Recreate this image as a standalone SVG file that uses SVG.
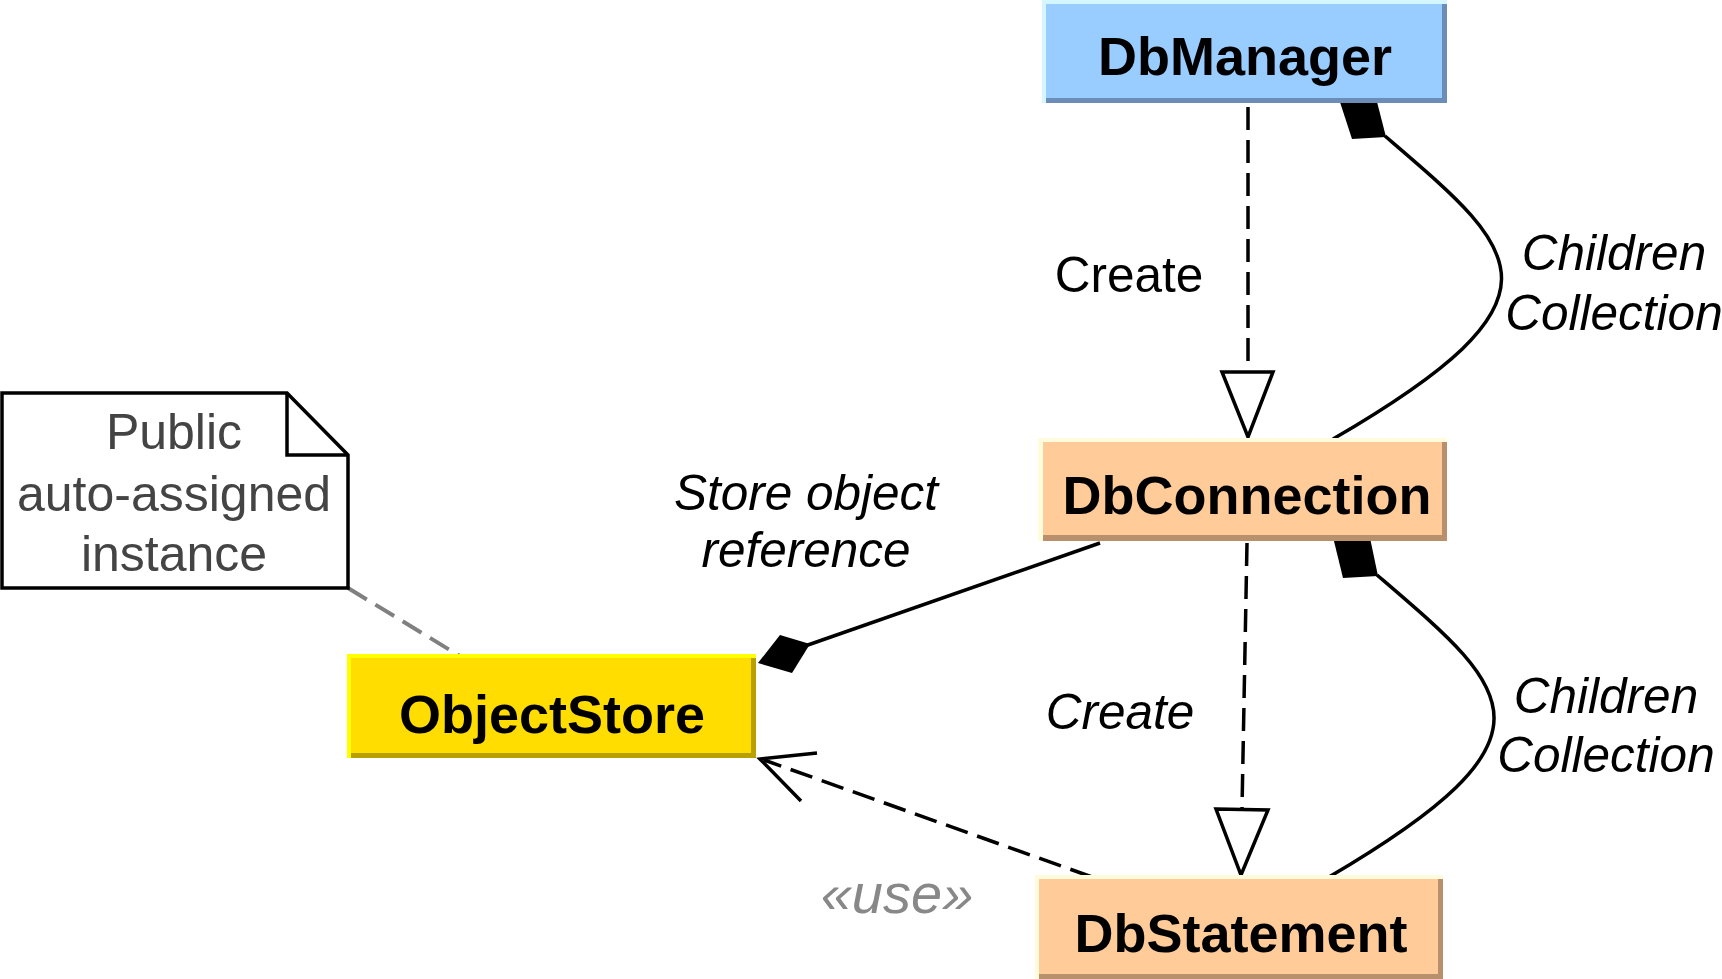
<svg xmlns="http://www.w3.org/2000/svg" width="1722" height="979" viewBox="0 0 1722 979">
<style>
.cls{font-family:"Liberation Sans",Arial,sans-serif;font-weight:bold;font-size:54px;fill:#000;text-anchor:middle}
.lbl{font-family:"Liberation Sans",Arial,sans-serif;font-size:49.5px;fill:#000;text-anchor:middle}
.it{font-style:italic}
.ln{fill:none;stroke:#000;stroke-width:3.5}
.dash{stroke-dasharray:23 10}
.tri{fill:#fff;stroke:#000;stroke-width:3.5;stroke-linejoin:miter}
.dia{fill:#000;stroke:none}
</style>
<rect width="1722" height="979" fill="#fff"/>
<g id="connectors">
  <!-- DbManager -> DbConnection create -->
  <line class="ln dash" x1="1248" y1="107" x2="1248" y2="372"/>
  <polygon class="tri" points="1222,372 1273,372 1248,437"/>
  <!-- DbManager children collection -->
  <path class="ln" d="M1385,136 C1519,251 1579,296 1333,439"/>
  <polygon class="dia" points="1338,96 1375,94 1386,137 1352,139"/>
  <!-- DbConnection -> DbStatement create -->
  <line class="ln dash" x1="1247" y1="543" x2="1242" y2="809"/>
  <polygon class="tri" points="1216,809 1268,810 1241,875"/>
  <!-- DbConnection children collection -->
  <path class="ln" d="M1377,575 C1511,690 1571,735 1329,877"/>
  <polygon class="dia" points="1332,533 1369,533 1378,576 1343,578"/>
  <!-- DbConnection -> ObjectStore store reference -->
  <line class="ln" x1="1100" y1="543" x2="805" y2="646"/>
  <polygon class="dia" points="758,663 780,635 810,644 792,673"/>
  <!-- DbStatement -> ObjectStore use -->
  <line class="ln dash" x1="1092" y1="877" x2="764" y2="760"/>
  <polyline class="ln" points="817,753 760,759 801,801"/>
  <!-- note anchor -->
  <line x1="348" y1="588" x2="463" y2="658" stroke="#808080" stroke-width="4" stroke-dasharray="22 10"/>
</g>
<g id="labels">
  <text class="lbl" x="1129" y="292">Create</text>
  <text class="lbl it" x="1614" y="270">Children</text>
  <text class="lbl it" x="1614" y="330">Collection</text>
  <text class="lbl it" x="806" y="510">Store object</text>
  <text class="lbl it" x="806" y="567">reference</text>
  <text class="lbl it" x="1120" y="729">Create</text>
  <text class="lbl it" x="1606" y="713">Children</text>
  <text class="lbl it" x="1606" y="772">Collection</text>
  <text class="lbl it" x="897" y="913" style="fill:#888;font-size:56px">«use»</text>
</g>
<g id="DbManager">
  <rect x="1042" y="0" width="405" height="103" fill="#d4f6ff"/>
  <rect x="1046" y="4" width="401" height="99" fill="#6b8db8"/>
  <rect x="1046" y="4" width="396" height="94" fill="#99ccff"/>
  <text class="cls" x="1245" y="75">DbManager</text>
</g>
<g id="DbConnection">
  <rect x="1038" y="438" width="409" height="103" fill="#fffbdd"/>
  <rect x="1043" y="442" width="404" height="99" fill="#b8906c"/>
  <rect x="1043" y="442" width="399" height="93" fill="#ffcc99"/>
  <text class="cls" x="1247" y="514">DbConnection</text>
</g>
<g id="ObjectStore">
  <rect x="347" y="654" width="409" height="104" fill="#ffff00"/>
  <rect x="351" y="658" width="405" height="100" fill="#b8a000"/>
  <rect x="351" y="658" width="400" height="95" fill="#ffdd00"/>
  <text class="cls" x="552" y="733">ObjectStore</text>
</g>
<g id="DbStatement">
  <rect x="1035" y="875" width="408" height="104" fill="#fffbdd"/>
  <rect x="1039" y="879" width="404" height="100" fill="#b8906c"/>
  <rect x="1039" y="879" width="399" height="95" fill="#ffcc99"/>
  <text class="cls" x="1241" y="952">DbStatement</text>
</g>
<g id="note">
  <path d="M2,393 L287,393 L348,455 L348,588 L2,588 Z" fill="#fff" stroke="#000" stroke-width="3.5" stroke-linejoin="miter"/>
  <path d="M287,393 L287,455 L348,455" fill="none" stroke="#000" stroke-width="3.5"/>
  <text class="lbl" x="174" y="449" style="fill:#444;font-size:50px">Public</text>
  <text class="lbl" x="174" y="511" style="fill:#444;font-size:50px">auto-assigned</text>
  <text class="lbl" x="174" y="571" style="fill:#444;font-size:50px">instance</text>
</g>
</svg>
